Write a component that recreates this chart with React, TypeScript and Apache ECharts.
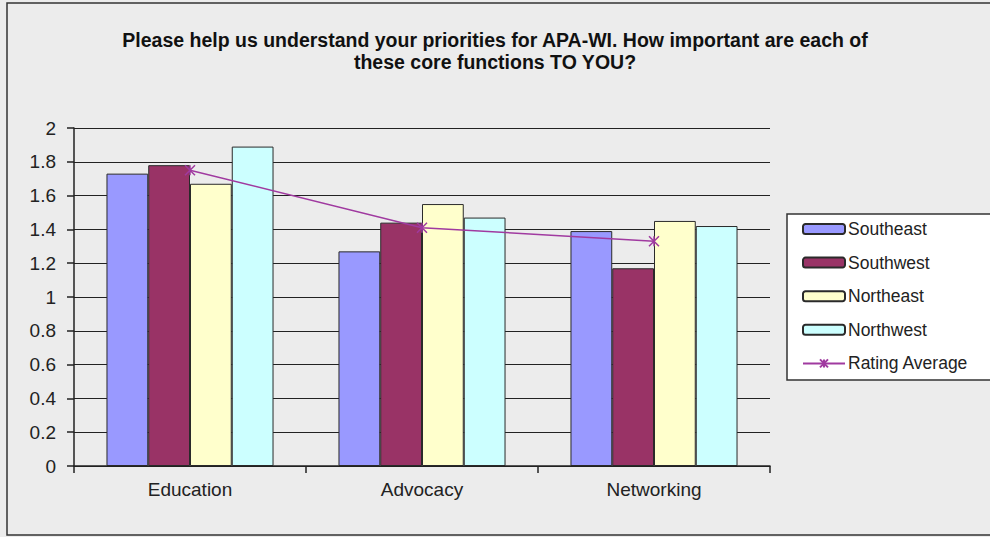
import React, { useEffect, useRef } from "react";
import * as echarts from "echarts";

const categories = ["Education", "Advocacy", "Networking"];
const southeast = [1.73, 1.27, 1.39];
const southwest = [1.78, 1.44, 1.17];
const northeast = [1.67, 1.55, 1.45];
const northwest = [1.89, 1.47, 1.42];
const ratingAverage = [1.75, 1.41, 1.33];
const yTicks = { min: 0, max: 2, interval: 0.2 };
const titleLines = [
  "Please help us understand your priorities for APA-WI. How important are each of",
  "these core functions TO YOU?",
];

const FONT = "'Liberation Sans', Arial, sans-serif";
const INK = "#222";

export default function App() {
  const ref = useRef<HTMLDivElement>(null);
  useEffect(() => {
    if (!ref.current) return;
    const chart = echarts.init(ref.current, undefined, { renderer: "svg" });
    const barStyle = (color: string) => ({
      color,
      borderColor: "#2a2a2a",
      borderWidth: 1,
    });
    const purple = "#a03aa0";
    chart.setOption({
      animation: false,
      backgroundColor: "#ececec",
      title: {
        text: titleLines.join("\n"),
        left: 490,
        top: 24,
        textAlign: "center",
        textStyle: {
          fontFamily: FONT,
          fontWeight: "bold",
          fontSize: 19.5,
          lineHeight: 22,
          color: "#111",
        },
      },
      graphic: [
        {
          type: "rect",
          shape: { x: 7, y: 3, width: 1000, height: 532 },
          style: { fill: "none", stroke: "#333", lineWidth: 1.5 },
          silent: true,
        },
        {
          type: "rect",
          shape: { x: 787, y: 214, width: 260, height: 166 },
          style: { fill: "#ffffff", stroke: "#333", lineWidth: 1.5 },
          silent: true,
          z: -1,
        },
      ],
      legend: {
        orient: "vertical",
        left: 802,
        top: 220,
        itemWidth: 42,
        itemHeight: 10,
        itemGap: 15.6,
        padding: 0,
        textStyle: { fontFamily: FONT, fontSize: 17.5, color: INK, padding: [0, 0, 0, -2] },
        data: ["Southeast", "Southwest", "Northeast", "Northwest", "Rating Average"],
      },
      grid: { left: 74, top: 128, right: 220, bottom: 71, containLabel: false },
      xAxis: {
        type: "category",
        data: categories,
        axisLine: { lineStyle: { color: INK, width: 1.5 } },
        axisTick: { show: true, length: 7, lineStyle: { color: INK, width: 1.5 } },
        axisLabel: { fontFamily: FONT, fontSize: 19, color: INK, margin: 14 },
      },
      yAxis: {
        type: "value",
        min: yTicks.min,
        max: yTicks.max,
        interval: yTicks.interval,
        axisLine: { show: true, lineStyle: { color: INK, width: 1.5 } },
        axisTick: { show: true, length: 7, lineStyle: { color: INK, width: 1.5 } },
        axisLabel: { fontFamily: FONT, fontSize: 19, color: INK, margin: 18 },
        splitLine: { lineStyle: { color: INK, width: 1.2 } },
      },
      series: [
        { name: "Southeast", type: "bar", data: southeast, itemStyle: barStyle("#9999ff"), barGap: "0%", barCategoryGap: "28%" },
        { name: "Southwest", type: "bar", data: southwest, itemStyle: barStyle("#993366") },
        { name: "Northeast", type: "bar", data: northeast, itemStyle: barStyle("#ffffcc") },
        { name: "Northwest", type: "bar", data: northwest, itemStyle: barStyle("#ccffff") },
        {
          name: "Rating Average",
          type: "line",
          data: ratingAverage,
          symbol: "path://M0,0L10,10M10,0L0,10M5,0L5,10",
          symbolSize: 10,
          showSymbol: true,
          lineStyle: { color: purple, width: 1.5 },
          itemStyle: { color: "none", borderColor: purple, borderWidth: 1.5 },
          z: 5,
        },
      ],
    });
    return () => chart.dispose();
  }, []);
  return (
    <div
      ref={ref}
      style={{ position: "absolute", left: 0, top: 0, width: 990, height: 537 }}
    />
  );
}
